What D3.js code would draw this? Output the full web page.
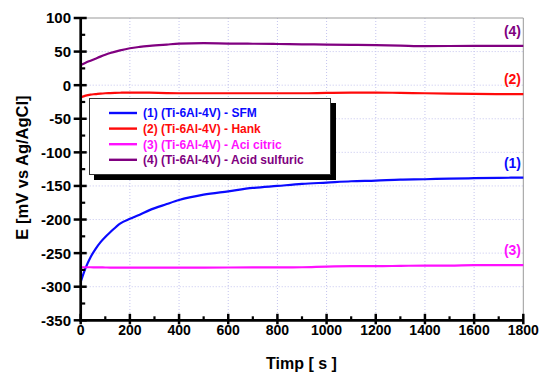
<!DOCTYPE html>
<html><head><meta charset="utf-8">
<script src="https://cdn.jsdelivr.net/npm/d3@7"></script>
<style>
html,body{margin:0;padding:0;background:#fff;}
svg{display:block;font-family:"Liberation Sans",Arial,sans-serif;font-weight:bold;}
</style></head>
<body><svg id="c" width="540" height="375"></svg>
<script>
const times = [0,20,40,60,80,100,120,160,200,240,280,350,400,500,600,700,800,900,1000,1100,1200,1300,1400,1500,1600,1700,1800];
const sfm = [-293,-272,-256,-244,-234,-226,-219,-206,-199,-193,-186,-177,-171,-163,-158,-153,-150,-147,-145,-143,-142,-140.5,-140,-139,-138.5,-138,-137.5];
const hank = [-18,-15.5,-14,-13.3,-12.5,-12,-11.8,-11.3,-11,-11,-11.2,-11.8,-12,-12,-12,-12,-12,-12,-11.5,-11.2,-11,-11.5,-12,-12.5,-13,-13.2,-13.4];
const citric = [-271,-271,-271,-271.2,-271.3,-271.4,-271.5,-271.5,-271.5,-271.5,-271.6,-271.6,-271.6,-271.5,-271.4,-271.3,-271.2,-271,-270,-269.5,-269.5,-269,-268.5,-268.5,-268,-268,-267.8];
const sulfuric = [30,33.5,36.5,39.5,42.5,45.3,47.8,51.8,55,57,58.5,60.5,61.8,62.6,62,61.7,61.3,60.8,60.5,60,59.6,58.8,58,58.3,58.6,58.6,58.6];
const seriesNames = ["(1) (Ti-6Al-4V) - SFM","(2) (Ti-6Al-4V) - Hank","(3) (Ti-6Al-4V) - Aci citric","(4) (Ti-6Al-4V) - Acid sulfuric"];
const endLabels = ["(1)","(2)","(3)","(4)"];
const colors = ["#0a0aff","#ff0a0a","#ff10ff","#800080"];
const xTicks = [0,200,400,600,800,1000,1200,1400,1600,1800];
const yTicks = [100,50,0,-50,-100,-150,-200,-250,-300,-350];

const svg = d3.select("#c");
const x = d3.scaleLinear().domain([0,1800]).range([80.7,523.3]);
const y = d3.scaleLinear().domain([-350,100]).range([320.3,18]);

// grid
const grid = svg.append("g").attr("stroke","#c4c4ee").attr("stroke-width",1).attr("stroke-dasharray","1,2");
xTicks.slice(1,-1).forEach(t=>grid.append("line").attr("x1",x(t)).attr("x2",x(t)).attr("y1",y(100)).attr("y2",y(-350)));
yTicks.slice(1,-1).forEach(t=>grid.append("line").attr("x1",x(0)).attr("x2",x(1800)).attr("y1",y(t)).attr("y2",y(t)));

// frame top/right
svg.append("line").attr("x1",x(0)).attr("x2",x(1800)).attr("y1",y(100)).attr("y2",y(100)).attr("stroke","#999").attr("stroke-width",1);
svg.append("line").attr("x1",x(1800)).attr("x2",x(1800)).attr("y1",y(100)).attr("y2",y(-350)).attr("stroke","#999").attr("stroke-width",1);

// lines
const all = [sfm,hank,citric,sulfuric];
const line = d3.line().x((d,i)=>x(times[i])).y(d=>y(d)).curve(d3.curveMonotoneX);
all.forEach((s,k)=>{
  svg.append("path").attr("d",line(s)).attr("fill","none").attr("stroke",colors[k]).attr("stroke-width",2.2);
});

// end labels
all.forEach((s,k)=>{
  svg.append("text").attr("x",521).attr("y",y(s[s.length-1])-10).attr("text-anchor","end")
    .attr("font-size",14).attr("fill",colors[k]).text(endLabels[k]);
});

// axes
const axg = svg.append("g");
const yMinor = d3.range(-350,101,25).filter(v=>v%50!==0);
const xMinor = d3.range(0,1801,100).filter(v=>v%200!==0);
yTicks.forEach(t=>axg.append("line").attr("x1",x(0)-7).attr("x2",x(0)+6).attr("y1",y(t)).attr("y2",y(t)).attr("stroke","#000").attr("stroke-width",2.5));
yMinor.forEach(t=>axg.append("line").attr("x1",x(0)).attr("x2",x(0)+4.5).attr("y1",y(t)).attr("y2",y(t)).attr("stroke","#000").attr("stroke-width",2.2));
xTicks.forEach(t=>axg.append("line").attr("x1",x(t)).attr("x2",x(t)).attr("y1",y(-350)-6.5).attr("y2",y(-350)+4).attr("stroke","#000").attr("stroke-width",2.5));
xMinor.forEach(t=>axg.append("line").attr("x1",x(t)).attr("x2",x(t)).attr("y1",y(-350)-4).attr("y2",y(-350)).attr("stroke","#000").attr("stroke-width",2.2));
axg.append("line").attr("x1",x(0)).attr("x2",x(0)).attr("y1",y(100)).attr("y2",y(-350)+1.3).attr("stroke","#000").attr("stroke-width",2.7);
axg.append("line").attr("x1",x(0)-1.3).attr("x2",x(1800)).attr("y1",y(-350)).attr("y2",y(-350)).attr("stroke","#000").attr("stroke-width",2.7);

yTicks.forEach(t=>axg.append("text").attr("x",71).attr("y",y(t)).attr("dy","0.36em").attr("text-anchor","end").attr("font-size",15).text(t));
xTicks.forEach(t=>axg.append("text").attr("x",x(t)).attr("y",335).attr("text-anchor","middle").attr("font-size",14).text(t));

svg.append("text").attr("x",301.5).attr("y",369).attr("text-anchor","middle").attr("font-size",16).text("Timp [ s ]");
svg.append("text").attr("transform","translate(27.5,167.5) rotate(-90)").attr("text-anchor","middle").attr("font-size",16.5).text("E [mV vs Ag/AgCl]");

// legend
const lg = svg.append("g");
lg.append("rect").attr("x",94).attr("y",103).attr("width",242).attr("height",77).attr("fill","#000");
lg.append("rect").attr("x",89.5).attr("y",98.5).attr("width",241).attr("height",76).attr("fill","#fff").attr("stroke","#333").attr("stroke-width",1);
seriesNames.forEach((n,k)=>{
  const yy = 113 + k*15.6;
  lg.append("line").attr("x1",109).attr("x2",137).attr("y1",yy).attr("y2",yy).attr("stroke",colors[k]).attr("stroke-width",2.4);
  lg.append("text").attr("x",143).attr("y",yy).attr("dy","0.36em").attr("font-size",12).attr("fill",colors[k]).text(n);
});
</script></body></html>
